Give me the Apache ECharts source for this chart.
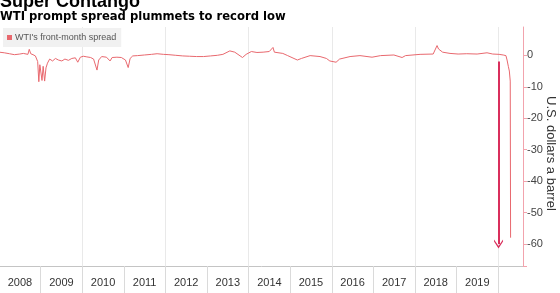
<!DOCTYPE html>
<html>
<head>
<meta charset="utf-8">
<script src="https://cdn.jsdelivr.net/npm/echarts@6/dist/echarts.min.js"></script>
<style>
html,body{margin:0;padding:0;background:#fff}
#main{width:560px;height:293px}
</style>
</head>
<body>
<div id="main"></div>
<script>
var myChart = echarts.init(document.getElementById('main'));

// WTI front-month spread, USD/barrel
var dates = [
  '2008-01-02','2008-02-15','2008-04-01','2008-05-15','2008-07-01','2008-08-01','2008-09-10','2008-09-22',
  '2008-10-05','2008-10-25','2008-11-15','2008-12-05','2008-12-15','2008-12-24','2009-01-12','2009-01-22',
  '2009-02-04','2009-02-16','2009-03-01','2009-03-20','2009-04-15','2009-05-10','2009-06-05','2009-07-05',
  '2009-08-01','2009-09-01','2009-10-01','2009-11-01','2009-11-22','2009-12-15','2010-01-10','2010-02-10',
  '2010-03-15','2010-04-10','2010-05-10','2010-05-25','2010-06-20','2010-08-01','2010-09-02','2010-09-20',
  '2010-11-01','2010-12-10','2011-01-15','2011-02-08','2011-02-25','2011-03-20','2011-05-01','2011-07-01',
  '2011-09-01','2011-10-20','2011-12-15','2012-02-01','2012-04-01','2012-06-01','2012-08-01','2012-10-01',
  '2012-12-01','2013-02-01','2013-04-01','2013-05-20','2013-07-20','2013-09-01','2013-11-08','2013-12-10',
  '2014-01-25','2014-03-15','2014-05-08','2014-07-01','2014-08-03','2014-08-15','2014-10-28','2014-12-10',
  '2015-03-05','2015-04-10','2015-06-25','2015-09-20','2015-11-15','2015-12-15','2016-02-08','2016-03-10',
  '2016-06-10','2016-09-05','2016-12-20','2017-03-05','2017-06-30','2017-09-10','2017-10-10','2018-02-15',
  '2018-06-10','2018-07-14','2018-07-27','2018-09-01','2018-11-05','2019-01-15','2019-04-01','2019-07-01',
  '2019-09-26','2019-11-15','2020-01-10','2020-02-15','2020-03-10','2020-03-20','2020-03-31','2020-04-09',
  '2020-04-17','2020-04-20'
];
var spread = [
  1.0, 0.8, 0.5, 0.2, 0.4, 0.6, 0.3, 1.9,
  0.5, 0.2, -0.2, -2.0, -8.4, -3.0, -8.0, -3.5,
  -8.2, -4.0, -2.5, -1.2, -1.8, -1.0, -1.5, -1.8,
  -1.2, -1.6, -1.0, -0.8, -2.2, -0.6, -0.3, -0.5,
  -0.7, -1.2, -4.7, -1.5, -0.4, -0.6, -1.8, -0.7,
  -0.6, -0.7, -1.5, -3.9, -1.0, -0.2, -0.1, 0.1,
  0.3, 0.5, 0.3, 0.2, 0.0, -0.2, -0.3, -0.4,
  -0.4, -0.2, 0.0, 0.3, 1.4, 1.0, -0.7, 0.3,
  1.2, 0.9, 1.0, 1.2, 2.5, 1.0, 0.6, -0.1,
  -1.5, -1.0, -0.1, -0.4, -1.0, -1.8, -2.2, -1.2,
  -0.4, -0.1, -0.6, -0.1, 0.1, -0.7, -0.1, 0.3,
  0.4, 3.1, 2.0, 1.0, 0.6, 0.4, 0.5, 0.4,
  0.8, 0.4, 0.3, 0.1, -0.1, -1.5, -3.5, -5.0,
  -8.2, -58.0
];

var years = [2008, 2009, 2010, 2011, 2012, 2013, 2014, 2015, 2016, 2017, 2018, 2019];
var gridYears = [2010, 2012, 2014, 2016, 2018, 2020];
var yLabels = [0, -10, -20, -30, -40, -50, -60];

// annotation arrow pointing at the record low
var arrowFrom = ['2020-01-05', -2];
var arrowTo = ['2020-01-05', -60];

var xMin = new Date(2008, 0, 9).getTime();
var xMax = new Date(2020, 7, 7).getTime();

// fractional year, so the label axis lines up with the time axis
function toYear(t) {
  var y = new Date(t).getFullYear();
  var a = new Date(y, 0, 1).getTime(), b = new Date(y + 1, 0, 1).getTime();
  return y + (t - a) / (b - a);
}
var yMinYear = toYear(xMin), yMaxYear = toYear(xMax);

var yearStarts = years.slice(1).concat([2020]);
var yearMids = years.map(function (y) { return y + 0.5; });

var data = dates.map(function (d, i) { return [d, spread[i]]; });

var option = {
  animation: false,
  textStyle: { fontFamily: 'Liberation Sans, Arial, sans-serif' },
  title: [{
    text: 'Super Contango',
    left: 0, top: -7, padding: 0,
    textStyle: { fontSize: 18, fontWeight: 'bold', color: '#000' }
  }, {
    text: 'WTI prompt spread plummets to record low',
    left: 0, top: 11, padding: 0,
    textStyle: { fontSize: 11.6, fontWeight: 'bold', color: '#000', fontFamily: 'DejaVu Sans' }
  }],
  legend: {
    left: 3, top: 28,
    padding: [5, 5, 5, 4],
    backgroundColor: '#f1f1f1',
    icon: 'rect', itemWidth: 5, itemHeight: 5, itemGap: 3,
    textStyle: { fontSize: 9, color: '#555', padding: [0, 0, 0, -2] },
    data: ["WTI's front-month spread"]
  },
  grid: { left: 0, right: 37, top: 27, bottom: 27, outerBoundsMode: 'none' },
  xAxis: [{
    type: 'time', min: xMin, max: xMax,
    axisLine: { show: false }, axisTick: { show: false },
    axisLabel: { show: false }, splitLine: { show: false }
  }, {
    type: 'value', min: yMinYear, max: yMaxYear, position: 'bottom',
    axisLine: { lineStyle: { color: '#c4c4c4' } },
    axisTick: { show: true, customValues: yearStarts, length: 28, lineStyle: { color: '#dadada' } },
    axisLabel: {
      customValues: yearMids, color: '#333', fontSize: 11, margin: 11,
      formatter: function (v) { return String(Math.floor(v)); }
    },
    splitLine: { show: false }
  }, {
    type: 'value', min: yMinYear, max: yMaxYear, position: 'bottom',
    axisLine: { show: false },
    axisTick: { show: false, customValues: gridYears },
    axisLabel: { show: false },
    splitLine: { show: true, lineStyle: { color: '#e9e9e9' } }
  }],
  yAxis: {
    type: 'value', position: 'right', min: -67, max: 9,
    splitLine: { show: false },
    axisLine: { show: true, lineStyle: { color: '#f2a3ad' } },
    axisTick: { show: true, length: 4, customValues: yLabels.concat([-67]), lineStyle: { color: '#f2a3ad' } },
    axisLabel: { customValues: yLabels, color: '#444', fontSize: 11, margin: 4 },
    name: 'U.S. dollars a barrel',
    nameLocation: 'middle', nameRotate: -90, nameGap: 21, nameMoveOverlap: false,
    nameTextStyle: { fontSize: 13, color: '#333', padding: [0, 0, 0, 14] }
  },
  series: [{
    name: "WTI's front-month spread",
    type: 'line',
    data: data,
    showSymbol: false,
    color: '#e8686e',
    lineStyle: { width: 1 },
    markLine: {
      silent: true,
      symbol: ['none', 'path://M5,0L10,7L10,9L5,2.5L0,9L0,7Z'],
      symbolSize: [9, 9],
      label: { show: false },
      lineStyle: { color: '#d92f5c', width: 2, type: 'solid' },
      data: [[{ coord: arrowFrom }, { coord: arrowTo }]]
    }
  }]
};

myChart.setOption(option);
</script>
</body>
</html>
